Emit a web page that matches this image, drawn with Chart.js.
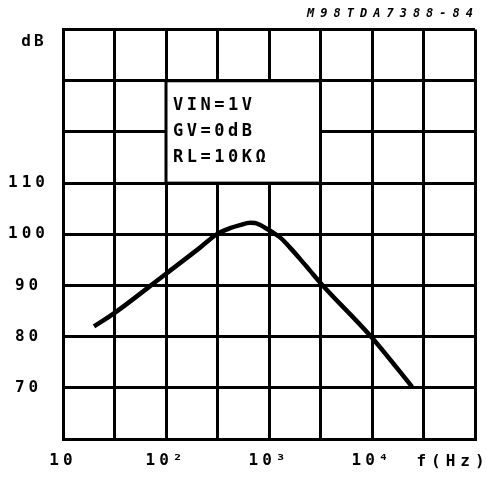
<!DOCTYPE html>
<html>
<head>
<meta charset="utf-8">
<script src="https://cdn.jsdelivr.net/npm/chart.js@4"></script>
<style>
    body { margin: 0; background: #fff; }
    canvas { display: block; }
</style>
</head>
<body>
<canvas id="gainChart" width="492" height="480"></canvas>
<script>
// values
const freqHz = [20, 32, 100, 214, 310, 418, 522, 655, 731, 914, 1062, 1279, 1600, 2000, 2500, 3126, 10000, 24500];
const gainDb = [82.0, 84.7, 92.3, 97.4, 100.0, 101.2, 101.8, 102.25, 102.2, 101.3, 100.5, 99.4, 97.4, 95.2, 92.9, 90.6, 79.8, 70.2];

// grid every half decade, labels on the decades
const xGrid = [10, 31.62, 100, 316.2, 1000, 3162, 10000, 31623, 100000];
const xLabels = { 10: '10', 100: '10²', 1000: '10³', 10000: '10⁴' };
const yLabelled = [70, 80, 90, 100, 110];
const noteLines = ['VIN=1V', 'GV=0dB', 'RL=10KΩ'];

const FONT = '"DejaVu Sans Mono", monospace';
const LINE_W = 3;

const spacingPlugin = {
    id: 'spacing',
    beforeDraw(chart) {
        chart.ctx.letterSpacing = '4px';
    }
};

const notesPlugin = {
    id: 'notes',
    beforeDatasetsDraw(chart) {
        const { ctx, scales: { x, y } } = chart;
        const x1 = x.getPixelForValue(100);
        const x2 = x.getPixelForValue(3162);
        const y1 = y.getPixelForValue(130);
        const y2 = y.getPixelForValue(110);

        ctx.save();
        // blank the grid inside the note box, then put its frame back
        ctx.fillStyle = '#fff';
        ctx.fillRect(x1, y1, x2 - x1, y2 - y1);
        ctx.strokeStyle = '#000';
        ctx.lineWidth = LINE_W;
        ctx.strokeRect(x1, y1, x2 - x1, y2 - y1);

        ctx.fillStyle = '#000';
        ctx.letterSpacing = '3.5px';
        ctx.font = 'bold 17px ' + FONT;
        ctx.textAlign = 'left';
        ctx.textBaseline = 'middle';
        noteLines.forEach((line, i) => {
            ctx.fillText(line, x1 + 7, y1 + 25 + i * 26);
        });
        ctx.restore();
    },
    afterDraw(chart) {
        const { ctx, chartArea } = chart;
        ctx.save();
        ctx.fillStyle = '#000';
        ctx.textBaseline = 'middle';

        ctx.letterSpacing = '3px';
        ctx.font = 'bold 16px ' + FONT;
        ctx.textAlign = 'center';
        ctx.fillText('dB', 34, chartArea.top + 12);

        ctx.letterSpacing = '5px';
        ctx.fillText('f(Hz)', 453, chartArea.bottom + 23);

        ctx.letterSpacing = '6px';
        ctx.font = 'italic bold 12px ' + FONT;
        ctx.textAlign = 'right';
        ctx.fillText('M98TDA7388-84', chartArea.right + 4, 14);
        ctx.restore();
    }
};

new Chart(document.getElementById('gainChart'), {
    type: 'line',
    data: {
        datasets: [{
            data: freqHz.map((f, i) => ({ x: f, y: gainDb[i] })),
            borderColor: '#000',
            borderWidth: 4.5,
            pointRadius: 0,
            cubicInterpolationMode: 'monotone',
            fill: false
        }]
    },
    options: {
        responsive: false,
        animation: false,
        devicePixelRatio: 1,
        layout: { padding: { left: 0, right: 17, top: 26, bottom: 0 } },
        plugins: {
            legend: { display: false },
            tooltip: { enabled: false }
        },
        scales: {
            x: {
                type: 'logarithmic',
                min: 10,
                max: 100000,
                afterBuildTicks: (scale) => {
                    scale.ticks = xGrid.map(v => ({ value: v }));
                },
                afterFit: (scale) => { scale.height = 41; },
                grid: { color: '#000', lineWidth: LINE_W, drawTicks: false },
                border: { color: '#000', width: LINE_W },
                ticks: {
                    autoSkip: false,
                    maxRotation: 0,
                    padding: 12,
                    color: '#000',
                    font: { family: FONT, size: 16, weight: 'bold' },
                    callback: (value) => xLabels[value] || ''
                }
            },
            y: {
                min: 60,
                max: 140,
                afterFit: (scale) => { scale.width = 63; },
                grid: { color: '#000', lineWidth: LINE_W, drawTicks: false },
                border: { color: '#000', width: LINE_W },
                ticks: {
                    stepSize: 10,
                    padding: 20,
                    crossAlign: 'center',
                    color: '#000',
                    font: { family: FONT, size: 16, weight: 'bold' },
                    callback: (value) => yLabelled.includes(value) ? String(value) : ''
                }
            }
        }
    },
    plugins: [spacingPlugin, notesPlugin]
});
</script>
</body>
</html>
